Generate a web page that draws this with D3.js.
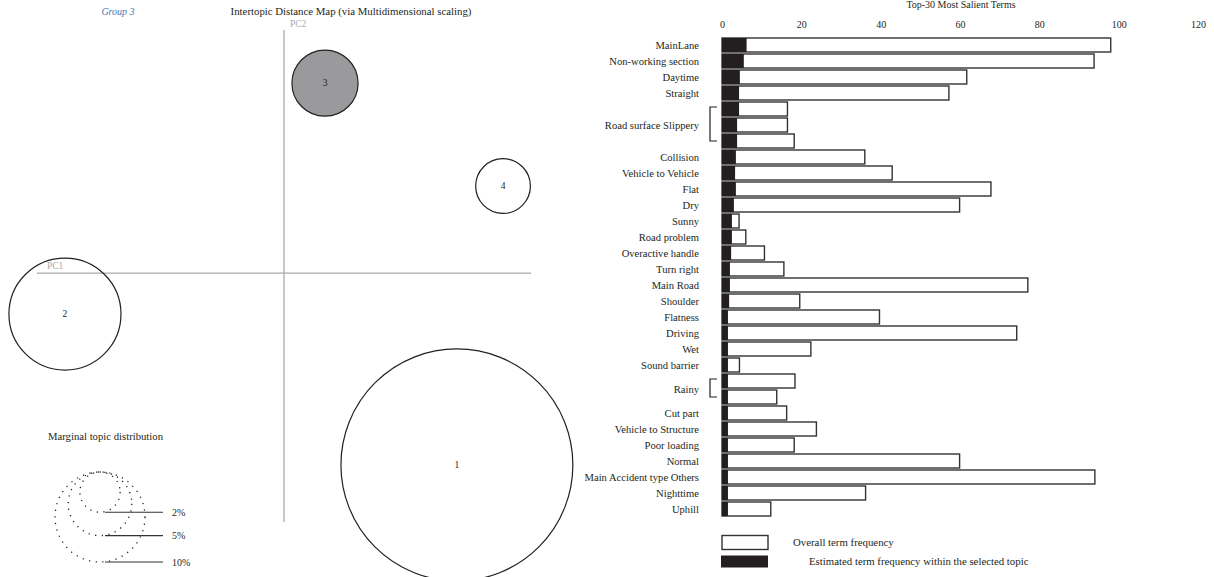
<!DOCTYPE html>
<html>
<head>
<meta charset="utf-8">
<script src="https://cdn.jsdelivr.net/npm/d3@7"></script>
<style>
  html, body { margin: 0; padding: 0; background: #fff; }
  svg { display: block; font-family: "Liberation Serif", "Times New Roman", serif; }
</style>
</head>
<body>
<svg id="chart" width="1214" height="577"></svg>
<script>
// ---- Topic map data (MDS coordinates and marginal share in %) ----
const topicIds = [1, 2, 3, 4];
const topicPC1 = [0.175, -0.2217, 0.0415, 0.2217];
const topicPC2 = [-0.195, -0.0417, 0.193, 0.0884];
const topicShare = [66.4, 15.5, 5.4, 3.7];
const selectedTopic = 3;

// legend sizes for the marginal distribution guide
const guideShares = [2, 5, 10];
const guideLabels = ["2%", "5%", "10%"];

// ---- Term bar data ----
const terms = [
  "MainLane", "Non-working section", "Daytime", "Straight",
  "Road surface Slippery", "Road surface Slippery", "Road surface Slippery",
  "Collision", "Vehicle to Vehicle", "Flat", "Dry", "Sunny", "Road problem",
  "Overactive handle", "Turn right", "Main Road", "Shoulder", "Flatness",
  "Driving", "Wet", "Sound barrier", "Rainy", "Rainy", "Cut part",
  "Vehicle to Structure", "Poor loading", "Normal",
  "Main Accident type Others", "Nighttime", "Uphill"
];
const overallFreq = [
  98, 93.8, 61.7, 57.2, 16.5, 16.5, 18.2, 36.0, 42.9, 67.8, 59.9, 4.3, 6.0,
  10.7, 15.6, 77.1, 19.6, 39.7, 74.3, 22.4, 4.4, 18.4, 13.8, 16.3, 23.8,
  18.2, 59.9, 94, 36.2, 12.3
];
const topicFreq = [
  6.2, 5.5, 4.5, 4.3, 4.3, 3.8, 3.8, 3.5, 3.3, 3.5, 3.0, 2.5, 2.5, 2.3, 2.0,
  2.0, 1.8, 1.5, 1.5, 1.5, 1.5, 1.5, 1.5, 1.5, 1.5, 1.5, 1.5, 1.5, 1.5, 1.5
];
const freqTicks = [0, 20, 40, 60, 80, 100, 120];

const svg = d3.select("#chart");
const ink = "#231f20";

// ================= Left panel: intertopic distance map =================
const x = d3.scaleLinear().domain([-0.25, 0.25]).range([37, 531]);
const y = d3.scaleLinear().domain([-0.253, 0.247]).range([522, 30]);
const r = d3.scaleSqrt().domain([0, 10]).range([0, 45]);

svg.append("text")
  .attr("x", 118).attr("y", 15)
  .attr("text-anchor", "middle")
  .style("font-size", "10px").style("font-style", "italic")
  .style("fill", "#4a78b4")
  .text("Group " + selectedTopic);

svg.append("text")
  .attr("x", 351).attr("y", 15)
  .attr("text-anchor", "middle")
  .style("font-size", "10.8px").style("fill", ink)
  .text("Intertopic Distance Map (via Multidimensional scaling)");

const mapAxes = svg.append("g").attr("class", "pc-axes");
mapAxes.append("line")
  .attr("x1", x.range()[0]).attr("x2", x.range()[1])
  .attr("y1", y(0)).attr("y2", y(0))
  .style("stroke", "#aaa").style("stroke-width", 1.3);
mapAxes.append("line")
  .attr("x1", x(0)).attr("x2", x(0))
  .attr("y1", y.range()[0]).attr("y2", y.range()[1])
  .style("stroke", "#aaa").style("stroke-width", 1.3);
mapAxes.append("text")
  .attr("x", x.range()[0] + 10).attr("y", y(0) - 4)
  .style("font-size", "9.5px").style("fill", "#aaa").text("PC1");
mapAxes.append("text")
  .attr("x", x(0) + 6).attr("y", y.range()[1] - 3)
  .style("font-size", "9.5px").style("fill", "#aaa").text("PC2");

const topics = topicIds.map((id, i) => ({
  id, pc1: topicPC1[i], pc2: topicPC2[i], share: topicShare[i]
}));

const dots = svg.append("g").selectAll("g").data(topics).join("g");
dots.append("circle")
  .attr("cx", d => x(d.pc1)).attr("cy", d => y(d.pc2))
  .attr("r", d => r(d.share))
  .style("fill", d => d.id === selectedTopic ? "#9a9a9c" : "none")
  .style("stroke", ink).style("stroke-width", 1.2);
dots.append("text")
  .attr("x", d => x(d.pc1)).attr("y", d => y(d.pc2))
  .attr("dy", "0.35em").attr("text-anchor", "middle")
  .style("font-size", "9.5px").style("fill", ink)
  .text(d => d.id);

// Marginal topic distribution guide
svg.append("text")
  .attr("x", 48).attr("y", 440)
  .style("font-size", "10.7px").style("fill", ink)
  .text("Marginal topic distribution");

const guideTop = 472, guideCx = 100, guideLineX1 = 105, guideLineX2 = 163;
const guide = svg.append("g").selectAll("g")
  .data(guideShares.map((s, i) => ({ s, label: guideLabels[i] })))
  .join("g");
guide.append("circle")
  .attr("cx", guideCx)
  .attr("cy", d => guideTop + r(d.s))
  .attr("r", d => r(d.s))
  .style("fill", "none").style("stroke", ink)
  .style("stroke-width", 1.3).style("stroke-dasharray", "1.2 5.5");
guide.append("line")
  .attr("x1", guideLineX1).attr("x2", guideLineX2)
  .attr("y1", d => guideTop + 2 * r(d.s))
  .attr("y2", d => guideTop + 2 * r(d.s))
  .style("stroke", "#333").style("stroke-width", 1.1);
guide.append("text")
  .attr("x", guideLineX2 + 9)
  .attr("y", d => guideTop + 2 * r(d.s))
  .attr("dy", "0.35em")
  .style("font-size", "10px").style("fill", ink)
  .text(d => d.label);

// ================= Right panel: top-30 salient terms =================
const bx = d3.scaleLinear().domain([0, 120]).range([722, 1198]);
const by = d3.scaleBand().domain(d3.range(terms.length))
  .range([37, 517]).paddingInner(0.125).paddingOuter(0.0625);

svg.append("text")
  .attr("x", 961).attr("y", 8)
  .attr("text-anchor", "middle")
  .style("font-size", "10px").style("fill", ink)
  .text("Top-30 Most Salient Terms");

const axis = svg.append("g")
  .attr("transform", "translate(0,28)")
  .call(d3.axisTop(bx).tickValues(freqTicks).tickSize(0).tickPadding(0));
axis.select(".domain").remove();
axis.selectAll("text")
  .style("font-family", "\"Liberation Serif\", serif")
  .style("font-size", "10px").style("fill", ink);

const rows = terms.map((t, i) => ({ t, i, all: overallFreq[i], top: topicFreq[i] }));

svg.append("g").selectAll("rect").data(rows).join("rect")
  .attr("x", bx(0)).attr("y", d => by(d.i))
  .attr("width", d => bx(d.all) - bx(0))
  .attr("height", by.bandwidth())
  .style("fill", "#fff").style("stroke", "#333").style("stroke-width", 1.4);

svg.append("g").selectAll("rect").data(rows).join("rect")
  .attr("x", bx(0)).attr("y", d => by(d.i))
  .attr("width", d => bx(d.top) - bx(0))
  .attr("height", by.bandwidth())
  .style("fill", ink);

// group consecutive rows sharing a term label
const groups = [];
rows.forEach(d => {
  const last = groups[groups.length - 1];
  if (last && last.t === d.t) last.end = d.i;
  else groups.push({ t: d.t, start: d.i, end: d.i });
});
const mid = i => by(i) + by.bandwidth() / 2;

svg.append("g").selectAll("text").data(groups).join("text")
  .attr("x", 699)
  .attr("y", g => (mid(g.start) + mid(g.end)) / 2)
  .attr("dy", "0.35em").attr("text-anchor", "end")
  .style("font-size", "10.6px").style("fill", ink)
  .text(g => g.t);

svg.append("g").selectAll("path").data(groups.filter(g => g.end > g.start)).join("path")
  .attr("d", g => {
    const y0 = mid(g.start) - 2, y1 = mid(g.end);
    return `M717,${y0}H710V${y1}H717`;
  })
  .style("fill", "none").style("stroke", ink).style("stroke-width", 1.2);

// Legend
svg.append("rect")
  .attr("x", 722).attr("y", 535.5).attr("width", 46).attr("height", 14)
  .style("fill", "#fff").style("stroke", "#333").style("stroke-width", 1.4);
svg.append("text")
  .attr("x", 793).attr("y", 542).attr("dy", "0.35em")
  .style("font-size", "10.8px").style("fill", ink)
  .text("Overall term frequency");
svg.append("rect")
  .attr("x", 721).attr("y", 555.5).attr("width", 47).attr("height", 12)
  .style("fill", ink);
svg.append("text")
  .attr("x", 809).attr("y", 561).attr("dy", "0.35em")
  .style("font-size", "10.8px").style("fill", ink)
  .text("Estimated term frequency within the selected topic");
</script>
</body>
</html>
